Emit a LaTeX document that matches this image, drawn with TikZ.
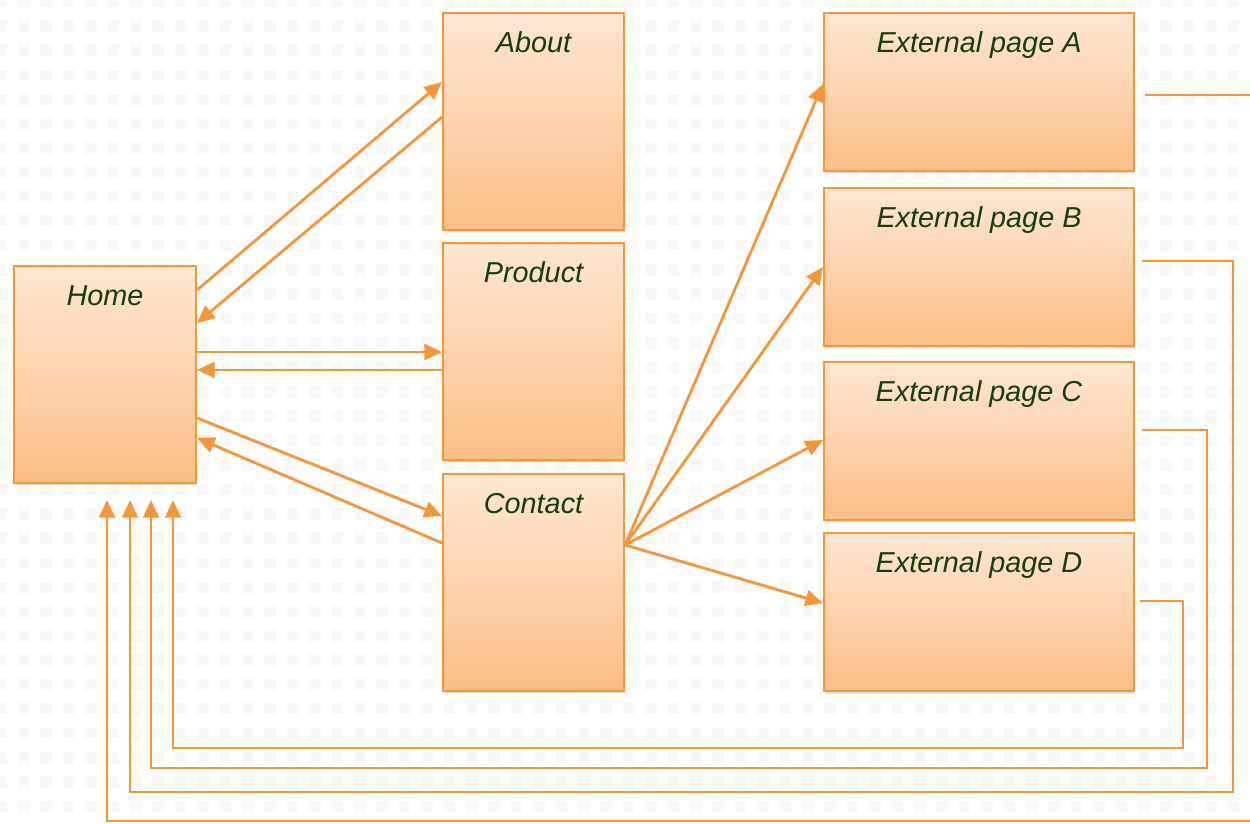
\documentclass[tikz,border=0pt]{standalone}
\usepackage{fontspec}
\setmainfont{Liberation Sans}
\usetikzlibrary{calc,shadows,arrows.meta}
\definecolor{pagetop}{RGB}{253,231,212}
\definecolor{pagebot}{RGB}{252,190,132}
\definecolor{pageline}{RGB}{247,150,56}
\definecolor{pagetext}{RGB}{22,62,12}
\definecolor{dotgray}{RGB}{248,248,248}
\tikzset{
	page/.style={draw=pageline, line width=1.2pt, top color=pagetop, bottom color=pagebot,
		anchor=north west, inner sep=0pt, text height=0.78cm, text=pagetext,
		font=\fontsize{16.4}{19}\selectfont\itshape,
		drop shadow={opacity=0.25,shadow xshift=0.8pt,shadow yshift=-1.4pt}},
	link/.style={draw=pageline, line width=1.6pt, ->},
	back/.style={draw=pageline, line width=1.3pt, ->},
	>={Triangle[length=10pt,width=9pt]}
}
\begin{document}
\begin{tikzpicture}[x=0.02cm,y=-0.02cm]
	\useasboundingbox (0,0) rectangle (1250,823);
	\fill[white] (0,0) rectangle (1250,823);
	
	\foreach \i in {0,...,56}{
		\foreach \j in {0,...,33}{
			\fill[dotgray] (-4.4+22.4*\i,-4.4+24.4*\j) rectangle ++(11.5,11.5);}}
	
	\node[page, minimum width=3.64cm, text depth=3.56cm] (home) at (13,265) {Home};
	\node[page, minimum width=3.62cm, text depth=3.56cm] (about) at (442,12) {About};
	\node[page, minimum width=3.62cm, text depth=3.56cm] (product) at (442,242) {Product};
	\node[page, minimum width=3.62cm, text depth=3.56cm] (contact) at (442,473) {Contact};
	
	\node[page, minimum width=6.2cm, text depth=2.38cm] (extA) at (823,12) {External page A};
	\node[page, minimum width=6.2cm, text depth=2.38cm] (extB) at (823,187) {External page B};
	\node[page, minimum width=6.2cm, text depth=2.38cm] (extC) at (823,361) {External page C};
	\node[page, minimum width=6.2cm, text depth=2.38cm] (extD) at (823,532) {External page D};
	
	\draw[link] ($(home.north east)+(0,25)$) -- ($(about.north west)+(0,70)$);
	\draw[link] ($(about.north west)+(0,105)$) -- ($(home.north east)+(0,58)$);
	\draw[link] ($(home.north east)+(0,87)$) -- ($(product.north west)+(0,110)$);
	\draw[link] ($(product.north west)+(0,128)$) -- ($(home.north east)+(0,105)$);
	\draw[link] ($(home.north east)+(0,153)$) -- ($(contact.north west)+(0,43)$);
	\draw[link] ($(contact.north west)+(0,70)$) -- ($(home.north east)+(0,173)$);
	
	\coordinate (hub) at ($(contact.north east)+(0,72)$);
	\foreach \t/\dy in {extA/72,extB/80,extC/79,extD/71}{
		\draw[link] (hub) -- ($(\t.north west)+(0,\dy)$);}
	
	\foreach \t/\dy/\gap/\cx/\cy/\tx in {extA/83/10/1262/821/94,extB/74/7/1233/792/117,extC/69/7/1207/768/138,extD/69/5/1183/748/160}{
		\draw[back] ($(\t.north east)+(\gap,\dy)$) -| (\cx,\cy) -| ($(home.south west)+(\tx,16)$);}
\end{tikzpicture}
\end{document}
